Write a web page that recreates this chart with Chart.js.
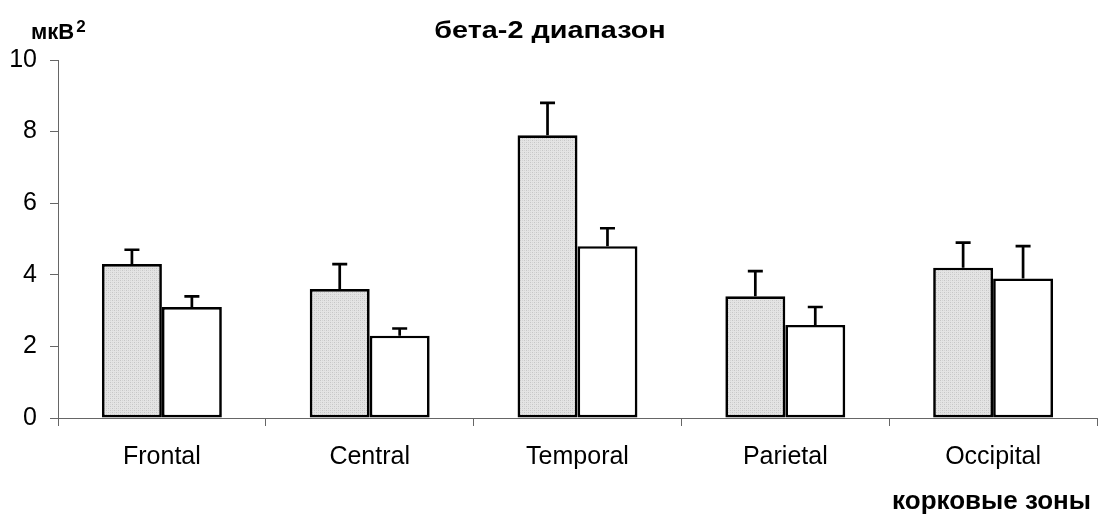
<!DOCTYPE html>
<html>
<head>
<meta charset="utf-8">
<script src="https://cdn.jsdelivr.net/npm/chart.js@4"></script>
<style>
    html, body { margin: 0; padding: 0; background: #fff; }
    #wrap { width: 1099px; height: 519px; position: relative; }
</style>
</head>
<body>
<div id="wrap"><canvas id="betaChart" width="1099" height="519"></canvas></div>
<script>
// ---- data ----
const zones = ["Frontal", "Central", "Temporal", "Parietal", "Occipital"];
const groupA = [4.3, 3.6, 7.9, 3.4, 4.2];
const groupAErr = [0.4, 0.7, 0.9, 0.7, 0.7];
const groupB = [3.1, 2.3, 4.8, 2.6, 3.9];
const groupBErr = [0.3, 0.2, 0.5, 0.5, 0.9];
const yTicks = [0, 2, 4, 6, 8, 10];

const titleText = "бета-2 диапазон";
const yUnit = "мкВ";
const xTitle = "корковые зоны";

const FONT = "'Liberation Sans', Arial, sans-serif";

// dotted grey fill
function makeDots() {
    const c = document.createElement("canvas");
    c.width = 4; c.height = 4;
    const g = c.getContext("2d");
    g.fillStyle = "#e4e4e4";
    g.fillRect(0, 0, 4, 4);
    g.fillStyle = "#c6c6c6";
    g.fillRect(0, 0, 1, 1);
    g.fillRect(2, 2, 1, 1);
    g.fillStyle = "#d4d4d4";
    g.fillRect(2, 0, 1, 1);
    g.fillRect(0, 2, 1, 1);
    return g.createPattern(c, "repeat");
}

const errors = [groupAErr, groupBErr];

// upward error whiskers with caps
const errorBars = {
    id: "errorBars",
    afterDatasetsDraw(chart) {
        const ctx = chart.ctx;
        const y = chart.scales.y;
        ctx.save();
        ctx.strokeStyle = "#000";
        ctx.lineWidth = 2.7;
        ctx.lineCap = "butt";
        chart.data.datasets.forEach((ds, di) => {
            const meta = chart.getDatasetMeta(di);
            meta.data.forEach((bar, i) => {
                const top = y.getPixelForValue(ds.data[i] + errors[di][i]);
                ctx.beginPath();
                ctx.moveTo(bar.x, bar.y);
                ctx.lineTo(bar.x, top);
                ctx.moveTo(bar.x - 7.5, top);
                ctx.lineTo(bar.x + 7.5, top);
                ctx.stroke();
            });
        });
        ctx.restore();
    }
};

// title, unit label and x axis caption
const captions = {
    id: "captions",
    afterDraw(chart) {
        const ctx = chart.ctx;
        ctx.save();
        ctx.fillStyle = "#000";
        ctx.textBaseline = "alphabetic";

        // title (slightly widened)
        ctx.save();
        ctx.translate(550, 38);
        ctx.scale(1.2, 1);
        ctx.font = "bold 24px " + FONT;
        ctx.textAlign = "center";
        ctx.fillText(titleText, 0, 0);
        ctx.restore();

        ctx.font = "bold 22px " + FONT;
        ctx.textAlign = "left";
        ctx.fillText(yUnit, 31, 39);
        const w = ctx.measureText(yUnit).width;
        ctx.font = "bold 17px " + FONT;
        ctx.fillText("2", 31 + w + 2, 32);

        ctx.font = "bold 26px " + FONT;
        ctx.textAlign = "right";
        ctx.fillText(xTitle, 1091, 509);
        ctx.restore();
    }
};

new Chart(document.getElementById("betaChart"), {
    type: "bar",
    data: {
        labels: zones,
        datasets: [
            {
                data: groupA,
                backgroundColor: makeDots(),
                borderColor: "#000",
                borderWidth: 2.7,
                borderSkipped: false
            },
            {
                data: groupB,
                backgroundColor: "#fff",
                borderColor: "#000",
                borderWidth: 2.7,
                borderSkipped: false
            }
        ]
    },
    options: {
        responsive: false,
        animation: false,
        events: [],
        layout: { padding: { top: 60, right: 2, left: 0, bottom: 0 } },
        plugins: {
            legend: { display: false },
            title: { display: false },
            tooltip: { enabled: false }
        },
        datasets: {
            bar: { categoryPercentage: 0.577, barPercentage: 1.0 }
        },
        scales: {
            x: {
                grid: {
                    offset: true,
                    drawOnChartArea: false,
                    drawTicks: true,
                    tickLength: 8,
                    color: "#666",
                    lineWidth: 1
                },
                border: { color: "#666", width: 1 },
                ticks: {
                    color: "#000",
                    font: { family: FONT, size: 25 },
                    padding: 16,
                    maxRotation: 0
                },
                afterFit(scale) { scale.height = 101; }
            },
            y: {
                min: 0,
                max: 10,
                afterBuildTicks(scale) {
                    scale.ticks = yTicks.map(v => ({ value: v }));
                },
                grid: {
                    drawOnChartArea: false,
                    drawTicks: true,
                    tickLength: 8,
                    color: "#666",
                    lineWidth: 1
                },
                border: { color: "#666", width: 1 },
                ticks: {
                    color: "#000",
                    font: { family: FONT, size: 25 },
                    padding: 13
                },
                afterFit(scale) { scale.width = 58; }
            }
        }
    },
    plugins: [errorBars, captions]
});
</script>
</body>
</html>
